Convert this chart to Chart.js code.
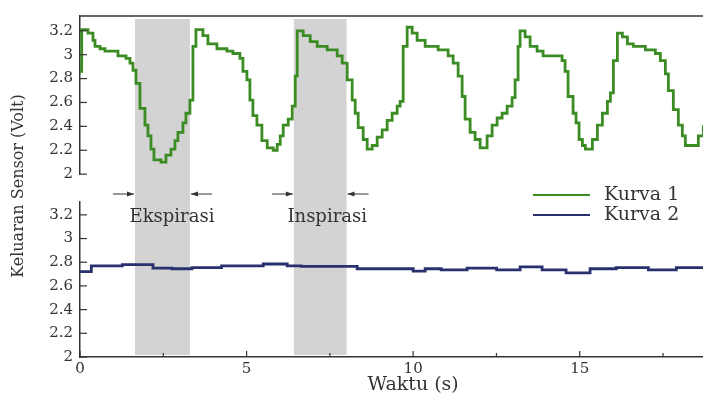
<!DOCTYPE html>
<html lang="en">
<head>
    <meta charset="UTF-8">
    <title>Keluaran Sensor</title>
    <script src="https://cdn.jsdelivr.net/npm/chart.js@4.4.2/dist/chart.umd.min.js"></script>
    <style>
        html, body {
          margin: 0;
          padding: 0;
          background: #fff;
          overflow: hidden;}
        #sensorChart {
          display: block;}
    </style>
</head>
<body>
    <canvas id="sensorChart" width="703" height="396"></canvas>

<script>
    // Kurva 1 (top panel) - time in s, output in Volt
    const k1Time = [0.00, 0.05, 0.24, 0.39, 0.45, 0.60, 0.75, 1.14, 1.38, 1.50, 1.59, 1.68, 1.80, 1.95, 2.04, 2.13, 2.22, 2.43, 2.58, 2.73,
        2.85, 2.94, 3.09, 3.18, 3.30, 3.39, 3.48, 3.69, 3.84, 4.11, 4.41, 4.59, 4.80, 4.89, 5.01, 5.10, 5.19, 5.31, 5.46, 5.62,
        5.80, 5.92, 6.01, 6.10, 6.25, 6.37, 6.46, 6.52, 6.70, 6.91, 7.12, 7.42, 7.72, 7.87, 8.02, 8.17, 8.26, 8.35, 8.50, 8.62,
        8.77, 8.92, 9.07, 9.22, 9.37, 9.52, 9.61, 9.70, 9.82, 9.97, 10.12, 10.36, 10.75, 11.05, 11.20, 11.35, 11.47, 11.56, 11.71, 11.86,
        12.01, 12.22, 12.37, 12.52, 12.67, 12.82, 12.97, 13.06, 13.15, 13.21, 13.36, 13.51, 13.72, 13.90, 14.47, 14.56, 14.65, 14.80, 14.89, 14.98,
        15.08, 15.17, 15.38, 15.53, 15.68, 15.83, 15.92, 16.01, 16.13, 16.28, 16.43, 16.61, 16.97, 17.27, 17.42, 17.57, 17.66, 17.81, 17.96, 18.08,
        18.17, 18.56, 18.71];
    const k1Volt = [2.86, 3.21, 3.18, 3.12, 3.07, 3.05, 3.03, 2.99, 2.97, 2.93, 2.87, 2.76, 2.55, 2.41, 2.32, 2.21, 2.12, 2.10, 2.16, 2.21,
        2.28, 2.35, 2.43, 2.51, 2.62, 3.07, 3.21, 3.16, 3.09, 3.05, 3.03, 3.01, 2.97, 2.86, 2.79, 2.62, 2.49, 2.41, 2.28, 2.22,
        2.20, 2.25, 2.32, 2.41, 2.46, 2.57, 2.82, 3.20, 3.16, 3.11, 3.07, 3.04, 2.99, 2.93, 2.79, 2.62, 2.51, 2.39, 2.29, 2.21,
        2.24, 2.31, 2.37, 2.45, 2.51, 2.57, 2.61, 3.07, 3.23, 3.18, 3.12, 3.07, 3.04, 2.99, 2.93, 2.82, 2.65, 2.46, 2.35, 2.29,
        2.22, 2.32, 2.41, 2.47, 2.51, 2.57, 2.64, 2.79, 3.07, 3.20, 3.15, 3.07, 3.03, 2.99, 2.95, 2.86, 2.65, 2.51, 2.43, 2.29,
        2.24, 2.21, 2.29, 2.41, 2.51, 2.61, 2.68, 2.95, 3.18, 3.15, 3.09, 3.07, 3.04, 3.01, 2.95, 2.84, 2.70, 2.54, 2.41, 2.32,
        2.24, 2.32, 2.41];

    // Kurva 2 (bottom panel)
    const k2Time = [0.00, 0.18, 0.50, 2.04, 2.34, 3.18, 3.54, 4.96, 6.04, 6.40, 6.88, 9.76, 10.24, 10.48, 11.20, 12.04, 12.97, 13.45, 14.29, 14.89,
        15.73, 16.46, 17.66, 18.14, 18.71];
    const k2Volt = [2.72, 2.72, 2.77, 2.78, 2.75, 2.745, 2.755, 2.77, 2.785, 2.77, 2.765, 2.745, 2.725, 2.745, 2.735, 2.75, 2.735, 2.76, 2.735, 2.71,
        2.745, 2.755, 2.735, 2.755, 2.755];

    const xTicks = [0, 5, 10, 15];
    const xMinor = [2.5, 7.5, 12.5, 17.5];
    const yTicks = [2, 2.2, 2.4, 2.6, 2.8, 3, 3.2];

    // shaded breathing phases
    const bandStart = [1.65, 6.42];
    const bandEnd = [3.30, 8.00];
    const bandLabels = ['Ekspirasi', 'Inspirasi'];
    const bandLabelAt = [2.76, 7.42];

    const serif = '"DejaVu Serif", "Liberation Serif", serif';
    const ink = '#333';

    function line(ctx, x0, y0, x1, y1) {
        ctx.beginPath();
        ctx.moveTo(x0, y0);
        ctx.lineTo(x1, y1);
        ctx.stroke();
    }

    function arrow(ctx, from, to, y) {
        const dir = Math.sign(to - from);
        line(ctx, from, y, to, y);
        ctx.beginPath();
        ctx.moveTo(to, y);
        ctx.lineTo(to - dir * 7, y - 2.5);
        ctx.lineTo(to - dir * 7, y + 2.5);
        ctx.closePath();
        ctx.fill();
    }

    const decor = {
        id: 'decor',
        beforeDatasetsDraw(chart) {
            const {ctx, chartArea} = chart;
            const x = chart.scales.x;
            ctx.save();
            ctx.fillStyle = 'rgba(150, 150, 150, 0.42)';
            bandStart.forEach((s, i) => {
                const x0 = x.getPixelForValue(s);
                const x1 = x.getPixelForValue(bandEnd[i]);
                ctx.fillRect(x0, chartArea.top + 3, x1 - x0, x.top - chartArea.top - 5);
            });
            ctx.restore();
        },
        afterDraw(chart) {
            const {ctx, chartArea} = chart;
            const {x, yTop, yBot} = chart.scales;
            ctx.save();
            ctx.strokeStyle = ink;
            ctx.fillStyle = ink;

            // frame line on top of upper panel
            ctx.lineWidth = 1.5;
            line(ctx, chartArea.left, yTop.top, chartArea.right, yTop.top);

            // ticks point inwards
            ctx.lineWidth = 1.2;
            [yTop, yBot].forEach(s => {
                yTicks.forEach(v => {
                    const py = s.getPixelForValue(v);
                    line(ctx, s.right, py, s.right + 7, py);
                });
            });
            xTicks.forEach(v => {
                const px = x.getPixelForValue(v);
                line(ctx, px, x.top, px, x.top - 6);
            });
            xMinor.forEach(v => {
                const px = x.getPixelForValue(v);
                line(ctx, px, x.top, px, x.top - 4);
            });

            // arrows + phase labels
            ctx.lineWidth = 1;
            const ay = 194;
            bandStart.forEach((s, i) => {
                const x0 = x.getPixelForValue(s);
                const x1 = x.getPixelForValue(bandEnd[i]);
                arrow(ctx, x0 - 22, x0 - 1, ay);
                arrow(ctx, x1 + 22, x1 + 1, ay);
            });
            ctx.font = '18px ' + serif;
            ctx.textAlign = 'center';
            ctx.textBaseline = 'middle';
            bandLabels.forEach((t, i) => {
                ctx.fillText(t, x.getPixelForValue(bandLabelAt[i]), 217);
            });

            // legend
            ctx.font = '19px ' + serif;
            ctx.textAlign = 'left';
            chart.data.datasets.forEach((ds, i) => {
                const ly = 195 + i * 20;
                ctx.strokeStyle = ds.borderColor;
                ctx.lineWidth = 2.2;
                line(ctx, 533, ly, 590, ly);
                ctx.fillStyle = ink;
                ctx.fillText(ds.label, 604, ly);
            });

            // axis titles
            ctx.fillStyle = ink;
            ctx.textAlign = 'center';
            ctx.font = '19px ' + serif;
            ctx.fillText('Waktu (s)', x.getPixelForValue(10), 385);
            ctx.font = '16px ' + serif;
            ctx.translate(19, 186);
            ctx.rotate(-Math.PI / 2);
            ctx.fillText('Keluaran Sensor (Volt)', 0, 0);
            ctx.restore();
        }
    };

    const yAxis = (weight, stackWeight, max) => ({
        type: 'linear',
        position: 'left',
        stack: 'panels',
        stackWeight: stackWeight,
        weight: weight,
        min: 2,
        max: max,
        afterBuildTicks: s => { s.ticks = yTicks.map(v => ({value: v})); },
        afterFit: s => { s.width = 80; },
        grid: {display: false, drawTicks: false},
        border: {display: true, color: ink, width: 1.5},
        ticks: {
            autoSkip: false,
            padding: 7,
            color: ink,
            font: {family: serif, size: 15},
            callback: v => String(+v.toFixed(1))}
    });

    new Chart(document.getElementById('sensorChart'), {
        type: 'line',
        data: {
            datasets: [
                {
                    label: 'Kurva 1',
                    data: k1Time.map((t, i) => ({x: t, y: k1Volt[i]})),
                    yAxisID: 'yTop',
                    borderColor: '#3c8c24',
                    borderWidth: 2.8,
                    stepped: true,
                    pointRadius: 0,
                    fill: false},
                {
                    label: 'Kurva 2',
                    data: k2Time.map((t, i) => ({x: t, y: k2Volt[i]})),
                    yAxisID: 'yBot',
                    borderColor: '#28306e',
                    borderWidth: 2.8,
                    stepped: 'middle',
                    pointRadius: 0,
                    fill: false}
            ]},
        options: {
            responsive: false,
            animation: false,
            layout: {padding: {top: 12, left: 0, right: 0, bottom: 0}},
            plugins: {
                legend: {display: false},
                tooltip: {enabled: false}},
            scales: {
                x: {
                    type: 'linear',
                    position: 'bottom',
                    min: 0,
                    max: 18.7,
                    afterBuildTicks: s => { s.ticks = xTicks.map(v => ({value: v})); },
                    afterFit: s => { s.height = 39; },
                    grid: {display: false, drawTicks: false},
                    border: {display: true, color: ink, width: 1.5},
                    ticks: {
                        autoSkip: false,
                        padding: 3,
                        maxRotation: 0,
                        color: ink,
                        font: {family: serif, size: 15}}},
                yTop: yAxis(3, 160, 3.324),
                yGap: {
                    type: 'linear',
                    position: 'left',
                    stack: 'panels',
                    stackWeight: 28,
                    weight: 2,
                    display: false},
                yBot: yAxis(1, 157, 3.31)}}
        ,
        plugins: [decor]
    });
</script>
</body>
</html>
